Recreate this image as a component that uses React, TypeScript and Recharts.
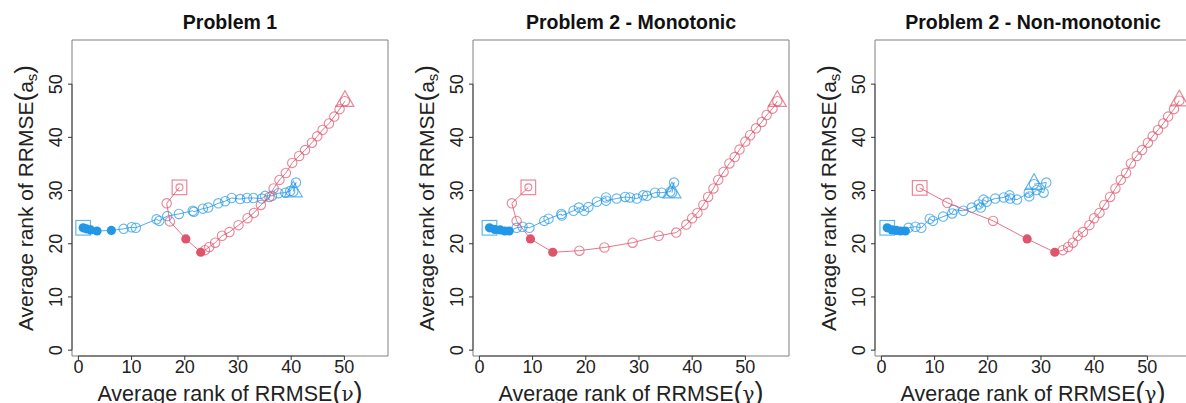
import { ScatterChart, Scatter, XAxis, YAxis, ReferenceArea, ReferenceLine } from 'recharts'

const RED = '#DF536B'
const BLUE = '#2297E6'
const FONT = '"Liberation Sans", Arial, Helvetica, sans-serif'

type Pt = [number, number]

// tick values + plot limits (R-style 4% padding)
const xTicks = [0, 10, 20, 30, 40, 50]
const yTicks = [0, 10, 20, 30, 40, 50]
const xDomain: [number, number] = [-1.2, 58.2]
const yDomain: [number, number] = [-1.1, 58.3]

const panelTitles = ['Problem 1', 'Problem 2 - Monotonic', 'Problem 2 - Non-monotonic']
const xVars = ['ν', 'γ', 'γ']

// Problem 1
const p1Blue: Pt[] = [
  [0.9, 23.0], [1.5, 22.8], [2.3, 22.6], [3.5, 22.4], [6.2, 22.5], [8.5, 22.8], [10.0, 23.1], [10.8, 23.0],
  [14.7, 24.6], [15.2, 24.3], [16.7, 25.2], [18.9, 25.6], [21.5, 26.2], [21.7, 26.0], [23.4, 26.6], [24.4, 26.8],
  [26.3, 27.6], [27.6, 28.0], [28.8, 28.6], [30.4, 28.4], [31.7, 28.6], [32.9, 28.6], [34.5, 28.5], [35.1, 29.0],
  [36.4, 29.0], [37.6, 29.5], [38.9, 29.6], [39.8, 29.9], [40.9, 31.5], [40.4, 29.8],
]
const p1BlueFilled = [0, 1, 2, 3, 4]
const p1Red: Pt[] = [
  [19.0, 30.6], [16.6, 27.6], [17.2, 24.2], [20.2, 20.9], [23.0, 18.4], [23.8, 18.8], [24.6, 19.4], [25.7, 20.2],
  [27.0, 21.5], [28.4, 22.2], [30.1, 23.5], [31.8, 24.8], [33.0, 25.8], [34.3, 27.3], [35.9, 28.8], [36.7, 30.4],
  [37.8, 32.0], [39.0, 33.3], [40.2, 35.2], [41.5, 36.5], [42.6, 37.6], [43.9, 39.0], [44.9, 40.2], [45.9, 41.4],
  [47.1, 42.6], [48.1, 43.9], [49.1, 45.3], [50.1, 46.8],
]
const p1RedFilled = [3, 4]

// Problem 2 - monotonic
const p2Blue: Pt[] = [
  [1.9, 23.0], [2.9, 22.7], [3.9, 22.6], [4.8, 22.4], [5.6, 22.4], [7.0, 23.0], [8.1, 23.2], [9.4, 23.0],
  [12.2, 24.3], [13.0, 24.7], [15.4, 25.6], [15.5, 25.3], [17.7, 26.2], [18.7, 26.8], [19.7, 26.2], [20.5, 26.9],
  [22.1, 27.9], [23.8, 28.7], [23.8, 28.1], [25.8, 28.5], [27.4, 28.8], [28.3, 28.7], [29.6, 28.5], [30.8, 29.1],
  [31.5, 29.0], [33.0, 29.6], [34.3, 29.6], [35.9, 29.8], [36.6, 31.5], [36.2, 29.6],
]
const p2BlueFilled = [0, 1, 2, 3, 4]
const p2Red: Pt[] = [
  [9.2, 30.6], [6.1, 27.6], [7.0, 24.3], [9.6, 20.9], [13.8, 18.4], [18.8, 18.7], [23.5, 19.3], [28.8, 20.2],
  [33.7, 21.5], [37.0, 22.1], [38.9, 23.6], [40.0, 24.8], [41.0, 25.8], [42.1, 27.3], [43.0, 28.8], [44.0, 30.4],
  [44.9, 32.0], [45.9, 33.5], [47.0, 35.1], [48.0, 36.3], [48.9, 37.7], [50.0, 39.2], [50.9, 40.4], [52.0, 41.7],
  [53.1, 42.9], [54.0, 44.2], [55.1, 45.4], [56.0, 46.8],
]
const p2RedFilled = [3, 4]

// Problem 2 - non-monotonic
const p3Blue: Pt[] = [
  [1.1, 23.0], [2.0, 22.6], [2.8, 22.5], [3.6, 22.4], [4.5, 22.4], [5.1, 23.0], [6.4, 23.2], [7.5, 23.0],
  [9.1, 24.7], [9.7, 24.3], [11.6, 25.1], [13.3, 25.7], [13.6, 26.4], [15.4, 26.2], [17.0, 26.8], [18.3, 27.4],
  [18.7, 26.8], [19.2, 28.3], [19.8, 27.9], [21.4, 28.5], [23.0, 28.7], [24.1, 29.1], [24.2, 28.5], [25.5, 28.3],
  [27.7, 29.6], [27.8, 28.9], [29.2, 30.1], [30.5, 29.6], [31.0, 31.5], [28.7, 31.2],
]
const p3BlueFilled = [0, 1, 2, 3, 4]
const p3Red: Pt[] = [
  [7.2, 30.5], [12.4, 27.7], [21.0, 24.3], [27.4, 20.9], [32.6, 18.4], [34.1, 18.8], [35.1, 19.4], [36.0, 20.2],
  [36.9, 21.5], [37.9, 22.2], [39.1, 23.5], [40.0, 24.8], [41.0, 25.8], [41.9, 27.3], [43.0, 28.8], [44.0, 30.4],
  [45.0, 32.0], [46.0, 33.3], [46.9, 35.1], [48.0, 36.5], [49.0, 37.6], [50.1, 39.0], [51.0, 40.2], [52.0, 41.4],
  [53.0, 42.6], [53.9, 43.9], [55.0, 45.3], [56.0, 46.9],
]
const p3RedFilled = [3, 4]

const panels = [
  { blue: p1Blue, blueFilled: p1BlueFilled, red: p1Red, redFilled: p1RedFilled },
  { blue: p2Blue, blueFilled: p2BlueFilled, red: p2Red, redFilled: p2RedFilled },
  { blue: p3Blue, blueFilled: p3BlueFilled, red: p3Red, redFilled: p3RedFilled },
]

function toRows(pts: Pt[], filled: number[]) {
  return pts.map(([x, y], i) => ({
    x, y,
    mark: i === 0 ? 'start' : i === pts.length - 1 ? 'end' : 'mid',
    filled: filled.includes(i),
  }))
}

const OP = 0.7

function Marker(props: any) {
  const { cx, cy, payload, color } = props
  if (cx == null || cy == null) return null
  const dot = payload.filled
    ? <circle cx={cx} cy={cy} r={4.6} fill={color} />
    : <circle cx={cx} cy={cy} r={payload.mark === 'start' ? 3.5 : 4.7} fill="none" stroke={color} strokeOpacity={OP} strokeWidth={1.1} />
  if (payload.mark === 'start') {
    return (
      <g>
        <rect x={cx - 7.3} y={cy - 7.3} width={14.6} height={14.6} fill="none" stroke={color} strokeOpacity={OP} strokeWidth={1.2} />
        {dot}
      </g>
    )
  }
  if (payload.mark === 'end') {
    const s = 18
    const h = s * Math.sqrt(3) / 2
    const pts = `${cx},${cy - 2 * h / 3} ${cx - s / 2},${cy + h / 3} ${cx + s / 2},${cy + h / 3}`
    return (
      <g>
        <polygon points={pts} fill="none" stroke={color} strokeOpacity={OP} strokeWidth={1.2} />
        {dot}
      </g>
    )
  }
  return dot
}

function XTick(p: any) {
  return (
    <text x={p.x} y={p.y + 13} textAnchor="middle" fontSize={18} fill="#222" fontFamily={FONT}>
      {p.payload.value}
    </text>
  )
}

function YTick(p: any) {
  const x = p.x - 6
  return (
    <text x={x} y={p.y} transform={`rotate(-90, ${x}, ${p.y})`} textAnchor="middle" fontSize={18} fill="#222" fontFamily={FONT}>
      {p.payload.value}
    </text>
  )
}

const W = 401
const H = 403
const PANEL_LEFT = [0, 401, 803]

function Panel({ idx }: { idx: number }) {
  const d = panels[idx]
  const blueRows = toRows(d.blue, d.blueFilled)
  const redRows = toRows(d.red, d.redFilled)
  return (
    <div style={{ position: 'absolute', left: PANEL_LEFT[idx], top: 0, width: W, height: H }}>
      <ScatterChart width={W} height={H} margin={{ top: 40, right: 13, left: 0, bottom: 0 }}>
        <XAxis type="number" dataKey="x" domain={xDomain} ticks={xTicks} allowDataOverflow
          axisLine={false} tickLine={{ stroke: '#333' }} tickSize={4} tickMargin={0} height={47} tick={<XTick />} />
        <YAxis type="number" dataKey="y" domain={yDomain} ticks={yTicks} allowDataOverflow
          axisLine={false} tickLine={{ stroke: '#333' }} tickSize={4} tickMargin={0} width={72} tick={<YTick />} />
        <ReferenceArea x1={xDomain[0]} x2={xDomain[1]} y1={yDomain[0]} y2={yDomain[1]}
          fill="none" stroke="#808080" strokeWidth={1} ifOverflow="visible" />
        <ReferenceLine segment={[{ x: 0, y: yDomain[0] }, { x: 50, y: yDomain[0] }]} stroke="#444" ifOverflow="visible" />
        <ReferenceLine segment={[{ x: xDomain[0], y: 0 }, { x: xDomain[0], y: 50 }]} stroke="#444" ifOverflow="visible" />
        <Scatter data={blueRows} line={{ stroke: BLUE, strokeWidth: 1, strokeOpacity: 0.8 }} lineType="joint"
          shape={(p: any) => <Marker {...p} color={BLUE} />} isAnimationActive={false} />
        <Scatter data={redRows} line={{ stroke: RED, strokeWidth: 1, strokeOpacity: 0.8 }} lineType="joint"
          shape={(p: any) => <Marker {...p} color={RED} />} isAnimationActive={false} />
      </ScatterChart>
      <svg width={W} height={H} style={{ position: 'absolute', left: 0, top: 0, pointerEvents: 'none' }}>
        <text x={230} y={29} textAnchor="middle" fontSize={19.5} fontWeight="bold" fontFamily={FONT} fill="#111">
          {panelTitles[idx]}
        </text>
        <text x={230} y={401} textAnchor="middle" fontSize={21.5} fontFamily={FONT} fill="#222">
          Average rank of RRMSE<tspan fontSize={27}>(</tspan><tspan fontFamily="DejaVu Serif" fontSize={20}>{xVars[idx]}</tspan><tspan fontSize={27}>)</tspan>
        </text>
        <text transform="translate(33,198) rotate(-90)" x={0} y={0} textAnchor="middle" fontSize={21} fontFamily={FONT} fill="#222">
          Average rank of RRMSE<tspan fontSize={26}>(</tspan>a<tspan fontSize={15} dy={4}>s</tspan><tspan fontSize={26} dy={-4}>)</tspan>
        </text>
      </svg>
    </div>
  )
}

export default function App() {
  return (
    <div style={{ position: 'absolute', left: 0, top: 0, width: 1186, height: 403, overflow: 'hidden', background: '#fff' }}>
      {[0, 1, 2].map((i) => <Panel key={i} idx={i} />)}
    </div>
  )
}
